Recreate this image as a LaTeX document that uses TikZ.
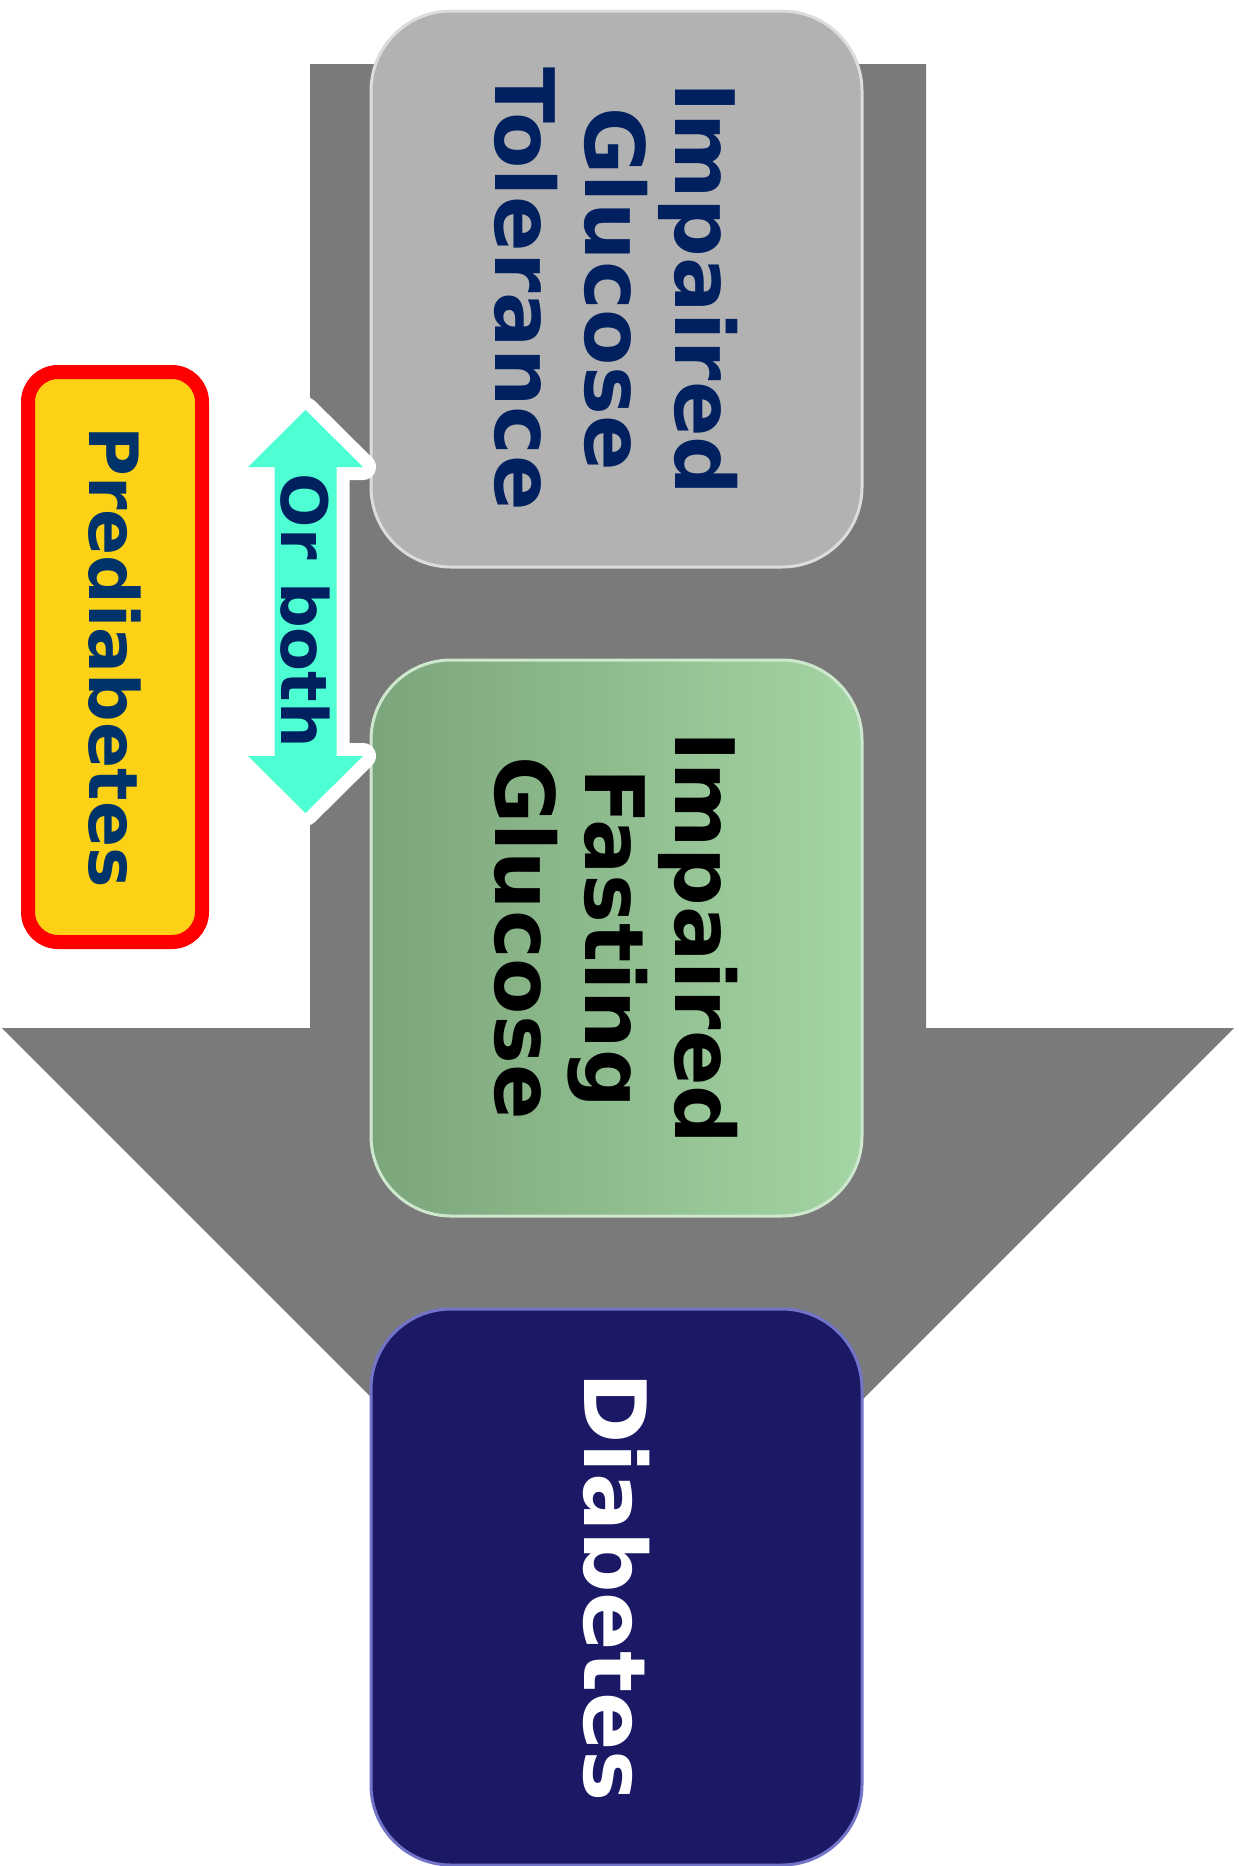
\documentclass[tikz,border=0pt]{standalone}
\usepackage{fontspec}
\setmainfont{DejaVu Sans}
\definecolor{arrowgrey}{HTML}{7A7A7A}
\definecolor{boxgrey}{HTML}{B2B2B2}
\definecolor{greendark}{HTML}{7BA57B}
\definecolor{greenlight}{HTML}{A4D5A4}
\definecolor{navy}{HTML}{1B1966}
\definecolor{navyedge}{HTML}{7274C8}
\definecolor{textblue}{HTML}{002060}
\definecolor{preblue}{HTML}{00336A}
\definecolor{preyellow}{HTML}{FCD116}
\definecolor{bothcyan}{HTML}{4DFFD2}
\tikzset{
  stagebox/.style={rotate=-90,rounded corners=80pt,minimum width=556pt,minimum height=491pt,
    inner sep=0pt,align=center,line width=3pt,font=\bfseries\fontsize{82}{90}\selectfont},
  sidetext/.style={rotate=-90,inner sep=0pt,font=\bfseries\fontsize{#1}{#1}\selectfont}
}
\begin{document}
\begin{tikzpicture}[x=1pt,y=-1pt]
\useasboundingbox (0,0) rectangle (1239,1866);
% big arrow behind the stages
\fill[arrowgrey] (310,64) -- (926,64) -- (926,1028) -- (1234,1028) -- (618,1644)
  -- (2,1028) -- (310,1028) -- cycle;
% stages
\node[stagebox,fill=boxgrey,draw=white!55!boxgrey,text=textblue] (igt) at (616.5,289) {Impaired\\Glucose\\Tolerance};
\node[stagebox,left color=greendark,right color=greenlight,draw=white!45!greenlight,text=black] (ifg) at (616.5,938) {Impaired\\Fasting\\Glucose};
\node[stagebox,fill=navy,draw=navyedge,text=white,font=\bfseries\fontsize{86}{90}\selectfont] (diab) at (616.5,1587) {Diabetes};
% double arrow
\coordinate (up) at (305.5,410);
\coordinate (down) at (305.5,813);
\fill[bothcyan,preaction={draw=white,line width=26pt,line join=round}]
  (up) -- (363,467) -- (336.5,467) -- (336.5,756) -- (363,756) -- (down)
  -- (248,756) -- (274.5,756) -- (274.5,467) -- (248,467) -- cycle;
\node[sidetext=64,text=textblue] (both) at (305.5,611) {Or both};
% prediabetes label
\node[rotate=-90,draw=red,line width=14pt,fill=preyellow,rounded corners=30pt,
  minimum width=570pt,minimum height=174pt,inner sep=0pt,text=preblue,
  font=\bfseries\fontsize{68}{68}\selectfont] (pre) at (115,657) {Prediabetes};
\end{tikzpicture}
\end{document}
